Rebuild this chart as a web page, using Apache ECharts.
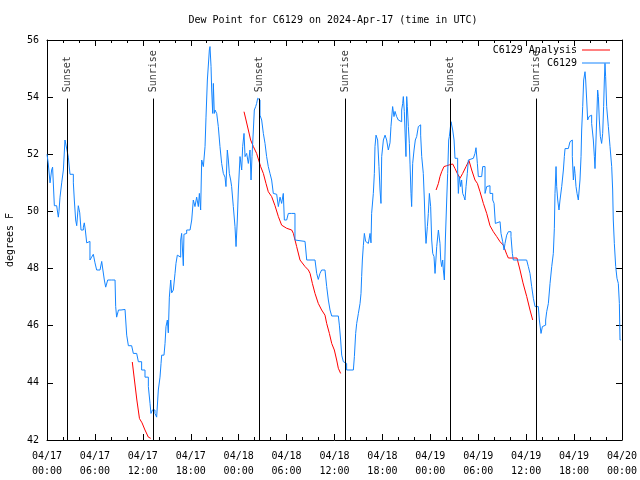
<!DOCTYPE html>
<html><head><meta charset="utf-8">
<script src="https://cdn.jsdelivr.net/npm/echarts@6/dist/echarts.min.js"></script>
<style>html,body{margin:0;padding:0;background:#fff}#c{width:640px;height:480px}</style>
</head><body><div id="c"></div>
<script>
const titleText = 'Dew Point for C6129 on 2024-Apr-17 (time in UTC)';
const yAxisTitle = 'degrees F';
const startDay = 17;
const xMin = 0, xMax = 72, xStep = 6;
const yMin = 42, yMax = 56, yStep = 2;

// C6129 observations: hours since 2024-04-17 00:00 UTC, dew point (F)
const blueHours = [0.00,0.15,0.38,0.58,0.70,0.92,1.21,1.42,1.50,1.63,1.84,2.05,2.25,2.38,2.50,2.67,2.88,3.10,3.30,3.42,3.59,3.72,3.92,4.10,4.26,4.55,4.67,4.80,4.97,5.17,5.38,5.59,5.80,6.01,6.22,6.64,6.85,7.00,7.18,7.35,7.60,8.10,8.52,8.60,8.72,8.95,9.27,9.77,9.98,10.19,10.60,10.81,11.23,11.44,11.85,12.27,12.69,12.90,13.02,13.20,13.52,13.73,13.94,14.15,14.28,14.36,14.65,14.78,14.90,15.07,15.19,15.32,15.49,15.61,15.82,16.03,16.15,16.32,16.57,16.74,16.86,17.07,17.15,17.28,17.49,17.91,18.12,18.32,18.53,18.74,18.95,19.08,19.24,19.37,19.58,19.79,19.91,20.08,20.33,20.41,20.54,20.62,20.75,20.83,20.95,21.04,21.25,21.45,21.66,21.87,22.08,22.29,22.41,22.58,22.71,22.83,23.00,23.12,23.33,23.54,23.67,23.83,23.96,24.17,24.38,24.50,24.67,24.80,25.00,25.21,25.42,25.55,25.67,25.84,25.96,26.13,26.25,26.38,26.55,26.67,26.88,27.09,27.30,27.50,27.71,27.92,28.13,28.34,28.55,28.76,28.97,29.18,29.38,29.59,29.72,30.01,30.22,30.64,30.85,31.05,31.26,32.31,32.52,33.56,33.77,33.97,34.18,34.39,34.81,35.02,35.23,35.44,35.65,36.48,36.61,36.77,36.90,37.11,37.32,37.52,38.36,38.49,38.65,38.78,38.99,39.20,39.32,39.40,39.49,39.61,39.74,39.90,40.03,40.24,40.45,40.57,40.65,40.86,40.99,41.07,41.20,41.40,41.57,41.70,41.82,41.91,42.12,42.33,42.53,42.74,42.95,43.07,43.28,43.45,43.58,43.78,43.99,44.20,44.41,44.54,44.62,44.74,44.87,44.95,45.04,45.12,45.25,45.37,45.46,45.58,45.66,45.79,45.96,46.12,46.29,46.50,46.62,46.79,46.92,47.12,47.25,47.37,47.46,47.63,47.75,47.88,48.04,48.17,48.30,48.46,48.59,48.80,49.01,49.13,49.21,49.30,49.42,49.55,49.63,49.76,49.88,50.05,50.17,50.30,50.38,50.59,50.80,50.97,51.09,51.30,51.42,51.51,51.63,51.80,51.92,52.05,52.21,52.34,52.47,52.63,52.76,52.97,53.39,53.59,53.72,53.89,54.01,54.43,54.56,54.72,54.85,55.06,55.27,55.47,55.68,55.81,55.98,56.14,56.31,56.73,56.85,57.06,57.23,57.35,57.56,57.77,57.98,58.10,58.27,58.39,60.06,60.27,60.48,60.69,60.90,61.11,61.52,61.65,61.86,62.03,62.28,62.44,62.57,62.78,62.99,63.20,63.40,63.53,63.61,63.74,63.82,63.95,64.11,64.24,64.45,64.66,64.78,64.87,65.07,65.28,65.49,65.61,65.78,65.91,66.03,66.12,66.24,66.37,66.53,66.74,66.87,66.95,67.08,67.20,67.37,67.45,67.58,67.70,67.87,68.00,68.20,68.41,68.54,68.62,68.70,68.83,68.95,69.04,69.16,69.29,69.45,69.58,69.70,69.79,69.87,69.95,70.08,70.29,70.50,70.71,70.83,70.91,71.04,71.21,71.37,71.54,71.67,71.75,71.85];
const blueValues = [52.0,51.7,51.0,51.45,51.55,50.2,50.2,49.8,50.0,50.5,51.0,51.45,52.5,52.5,52.15,51.9,51.3,51.3,51.0,50.4,49.7,49.5,50.2,49.95,49.35,49.45,49.6,49.35,48.9,48.95,48.3,48.4,48.5,48.2,47.95,47.95,48.25,47.95,47.6,47.35,47.6,47.6,47.6,46.67,46.3,46.55,46.57,46.57,45.67,45.3,45.25,45.03,44.97,44.74,44.45,44.2,43.87,43.28,42.93,43.05,42.93,42.8,43.75,44.2,44.68,44.97,44.97,45.38,45.97,46.2,45.75,47.0,47.6,47.15,47.25,47.83,48.18,48.47,48.4,49.0,49.23,48.1,49.2,49.23,49.35,49.4,49.7,50.4,50.17,50.5,50.17,50.63,50.05,51.8,51.57,52.27,53.3,54.6,55.65,55.77,55.07,54.25,53.43,54.48,53.43,53.55,53.43,52.97,52.27,51.68,51.33,51.2,50.87,52.15,51.8,51.33,51.1,50.87,50.17,49.47,48.77,49.7,50.75,51.92,51.45,52.27,52.73,51.92,52.03,51.68,52.15,51.1,51.92,52.85,53.55,53.67,53.78,53.96,53.9,53.37,53.2,52.73,52.38,51.92,51.57,51.33,51.1,50.63,50.6,50.63,50.17,50.5,50.28,50.63,49.7,49.65,49.93,50.0,49.93,49.0,48.95,48.95,48.3,48.3,47.83,47.62,47.83,47.95,47.95,47.37,46.9,46.55,46.34,46.34,46.02,45.5,44.97,44.74,44.68,44.45,44.45,44.92,45.73,46.08,46.43,46.78,47.13,47.72,48.3,48.8,49.23,48.95,48.88,48.95,49.23,48.9,49.93,50.63,51.33,52.27,52.67,52.5,51.57,50.75,50.28,51.92,52.5,52.67,52.5,52.15,52.4,52.97,53.67,53.32,53.5,53.32,53.2,53.14,53.55,53.78,54.02,53.5,52.5,51.92,54.02,53.67,52.97,52.38,51.63,50.63,50.17,51.68,52.15,52.5,52.62,52.97,53.03,52.67,51.92,51.33,50.4,49.35,48.88,49.47,49.93,50.63,50.17,49.0,48.53,48.42,47.83,48.77,49.35,49.41,48.88,48.3,48.07,48.3,47.95,47.6,49.0,50.4,51.33,52.5,52.62,53.14,52.85,52.5,51.86,51.86,51.45,50.63,51.22,50.87,51.1,50.63,50.52,50.4,50.87,51.33,51.8,51.86,51.92,52.03,52.23,51.68,51.22,51.22,51.57,51.57,50.63,50.87,50.9,50.63,50.63,50.4,50.28,49.58,49.64,49.64,49.23,48.94,48.65,48.88,49.17,49.29,49.29,49.12,48.53,48.3,48.3,48.07,47.83,47.37,46.96,46.67,46.67,46.2,45.73,45.97,46.02,46.2,46.49,46.78,47.48,48.07,48.53,49.41,50.63,51.57,50.87,50.4,50.05,50.4,50.87,51.45,51.92,52.2,52.2,52.27,52.44,52.5,51.92,51.1,51.57,51.33,50.87,50.63,50.4,51.1,51.92,52.85,53.67,54.6,54.89,54.6,53.9,53.2,53.32,53.37,53.08,52.5,51.92,51.5,52.15,53.2,54.25,54.02,53.2,52.62,52.38,52.73,53.67,54.6,55.18,54.72,53.67,52.97,52.27,51.57,50.75,49.7,48.88,48.07,47.66,47.48,46.78,45.5,45.5];

// C6129 Analysis: three separate segments
const redHours1 = [10.68,10.95,11.25,11.58,11.90,12.27,12.69,12.98];
const redValues1 = [44.73,44.1,43.4,42.75,42.6,42.35,42.1,42.06];
const redHours2 = [24.67,24.92,25.21,25.50,25.84,26.25,26.50,26.75,27.09,27.42,27.71,28.13,28.55,28.97,29.38,30.01,30.64,30.85,31.26,31.68,32.31,32.73,32.94,33.23,33.56,33.97,34.39,34.81,35.02,35.36,35.65,35.98,36.27,36.48,36.77];
const redValues2 = [53.49,53.2,52.85,52.5,52.27,52.03,51.8,51.57,51.33,50.98,50.69,50.52,50.2,49.82,49.52,49.41,49.35,49.23,48.77,48.3,48.07,47.95,47.83,47.48,47.13,46.78,46.55,46.37,46.08,45.73,45.38,45.15,44.8,44.51,44.33];
const redHours3 = [48.72,49.01,49.21,49.42,49.71,50.05,50.38,50.80,51.09,51.38,51.71,52.05,52.47,52.84,53.18,53.59,53.89,54.22,54.64,55.06,55.47,55.89,56.31,56.73,57.14,57.56,57.77,58.85,59.23,59.60,60.07,60.48,60.82];
const redValues3 = [50.75,50.98,51.22,51.39,51.57,51.6,51.63,51.66,51.5,51.33,51.16,51.33,51.57,51.78,51.45,51.1,50.98,50.69,50.28,49.93,49.5,49.29,49.12,48.94,48.82,48.5,48.37,48.37,47.95,47.5,47.02,46.55,46.2];

const eventNames = ['Sunset','Sunrise','Sunset','Sunrise','Sunset','Sunrise'];
const eventHours = [2.53,13.32,26.57,37.35,50.52,61.32];
const eventLineTop = 53.95;
const eventLabelBase = 54.17;

const FONT = 'DejaVu Sans Mono';
const zip = (a, b) => a.map((v, i) => [v, b[i]]);
function fmtX(v) {
  const d = startDay + Math.floor(v / 24);
  const hh = v % 24;
  return '04/' + String(d).padStart(2, '0') + '\n' + String(hh).padStart(2, '0') + ':00';
}
const redStyle = { color: '#ff0000', width: 1 };
const blueColor = '#1485ff';

function xAxisCfg(pos, showLabel) {
  return {
    type: 'value', position: pos, min: xMin, max: xMax, interval: xStep,
    axisLine: { show: true, onZero: false, lineStyle: { color: '#000', width: 1 } },
    axisTick: { show: true, inside: true, length: 6, lineStyle: { color: '#000' } },
    minorTick: { show: true, splitNumber: 3, length: 3, lineStyle: { color: '#000' } },
    splitLine: { show: false },
    axisLabel: { show: showLabel, formatter: fmtX, fontFamily: FONT, fontSize: 10, color: '#000', lineHeight: 15, margin: 9 }
  };
}
function yAxisCfg(pos, showLabel) {
  return {
    type: 'value', position: pos, min: yMin, max: yMax, interval: yStep,
    name: showLabel ? yAxisTitle : '', nameLocation: 'middle', nameRotate: 90, nameGap: 32,
    nameTextStyle: { fontFamily: FONT, fontSize: 10, color: '#000' },
    axisLine: { show: true, onZero: false, lineStyle: { color: '#000', width: 1 } },
    axisTick: { show: true, inside: true, length: 6, lineStyle: { color: '#000' } },
    splitLine: { show: false },
    axisLabel: { show: showLabel, fontFamily: FONT, fontSize: 10, color: '#000', margin: 8 }
  };
}

const legendCommon = { right: 30, padding: 0, align: 'right', icon: 'rect', itemWidth: 28, itemHeight: 1, itemGap: 0,
  textStyle: { fontFamily: FONT, fontSize: 10, color: '#000' }, selectedMode: false };

const chart = echarts.init(document.getElementById('c'), null, { renderer: 'canvas' });
chart.setOption({
  animation: false,
  backgroundColor: '#fff',
  grid: { left: 47, right: 18, top: 40, bottom: 40, containLabel: false, outerBoundsMode: 'none' },
  graphic: [{ type: 'text', x: 333, y: 20, style: { text: titleText, font: '10px ' + FONT, fill: '#000', textAlign: 'center', textVerticalAlign: 'middle' } }],
  legend: [
    Object.assign({ data: ['C6129 Analysis'], top: 45 }, legendCommon),
    Object.assign({ data: ['C6129'], top: 58 }, legendCommon)
  ],
  xAxis: [xAxisCfg('bottom', true), xAxisCfg('top', false)],
  yAxis: [yAxisCfg('left', true), yAxisCfg('right', false)],
  series: [
    { type: 'scatter', name: 'events', data: eventHours.map((h, i) => [h, eventLabelBase, eventNames[i]]),
      symbolSize: 0, silent: true, z: 1, itemStyle: { color: '#000' },
      label: { show: true, position: 'inside', rotate: 90, align: 'left', verticalAlign: 'middle',
        formatter: p => p.value[2], fontFamily: FONT, fontSize: 10, color: '#000', textBorderWidth: 0 },
      markLine: { silent: true, symbol: ['none', 'none'], label: { show: false },
        lineStyle: { color: '#000', width: 1, type: 'solid' },
        data: eventHours.map(h => [{ coord: [h, yMin] }, { coord: [h, eventLineTop] }]) } },
    { type: 'line', name: 'C6129 Analysis', data: zip(redHours1, redValues1), symbol: 'none', lineStyle: redStyle, itemStyle: { color: '#ff0000' }, z: 2 },
    { type: 'line', name: 'C6129 Analysis', data: zip(redHours2, redValues2), symbol: 'none', lineStyle: redStyle, itemStyle: { color: '#ff0000' }, z: 2 },
    { type: 'line', name: 'C6129 Analysis', data: zip(redHours3, redValues3), symbol: 'none', lineStyle: redStyle, itemStyle: { color: '#ff0000' }, z: 2 },
    { type: 'line', name: 'C6129', data: zip(blueHours, blueValues), symbol: 'none', step: 'end',
      lineStyle: { color: blueColor, width: 1 }, itemStyle: { color: blueColor }, z: 3 }
  ]
});
</script></body></html>
